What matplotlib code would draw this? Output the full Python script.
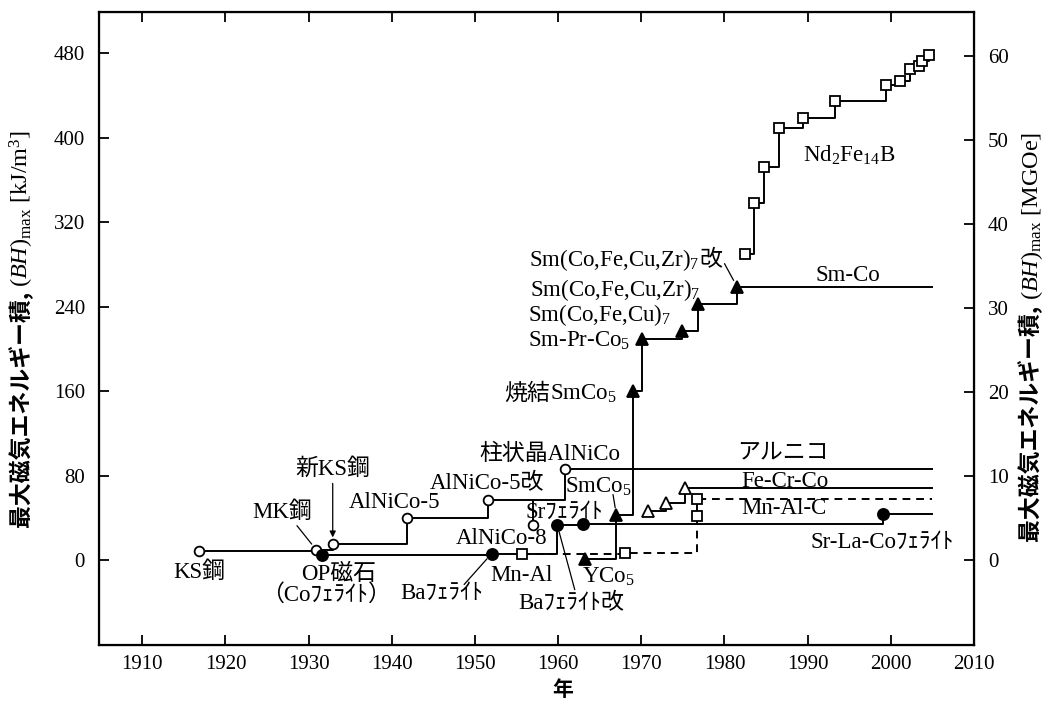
import matplotlib
matplotlib.use('Agg')
import matplotlib.pyplot as plt

plt.rcParams['font.family'] = ['Liberation Serif', 'Noto Sans CJK JP']
plt.rcParams['mathtext.fontset'] = 'custom'
plt.rcParams['mathtext.rm'] = 'Liberation Serif'
plt.rcParams['mathtext.it'] = 'Liberation Serif:italic'
plt.rcParams['mathtext.default'] = 'rm'

# year / (BH)max [kJ/m3]
alnico_year = [1916.8, 1930.9, 1932.9, 1941.8, 1951.6, 1960.8]
alnico_val = [8.2, 9.9, 14.8, 39.9, 56.5, 86.4]
alnico8_year = 1957.0
alnico8_val = 33.0

ferrite_year = [1931.6, 1952.0, 1959.9, 1963.0, 1999.0]
ferrite_val = [5.0, 6.0, 33.0, 34.0, 44.0]

smco_year = [1963.2, 1967.0, 1969.0, 1970.1, 1974.9, 1976.8, 1981.5]
smco_val = [1.0, 43.0, 160.0, 209.0, 217.0, 242.5, 259.0]

mnal_year = [1955.7, 1968.1, 1976.7, 1976.7]
mnal_val = [5.6, 7.0, 42.0, 58.0]

fecrco_year = [1970.8, 1973.0, 1975.2]
fecrco_val = [46.0, 54.0, 68.0]

ndfeb_year = [1982.5, 1983.6, 1984.8, 1986.5, 1989.4, 1993.3,
              1999.4, 2001.1, 2002.3, 2003.4, 2003.7, 2004.6]
ndfeb_val = [290, 338, 372, 409, 419, 435, 450, 454, 465, 468, 473, 478]

LINE_END = 2005.0
KJ_PER_MGOE = 7.958

year_ticks = list(range(1910, 2011, 10))
kj_ticks = list(range(0, 481, 80))
mgoe_ticks = list(range(0, 61, 10))

# labels: (text, year, value)
plain_labels = [
    ('KS鋼', 1916.8, -11.7),
    ('MK鋼', 1926.8, 45.7),
    ('新KS鋼', 1932.9, 86.7),
    ('OP磁石', 1933.6, -13.6),
    ('（Coﾌｪﾗｲﾄ）', 1932.1, -32.6),
    ('AlNiCo-5', 1940.3, 54.0),
    ('Baﾌｪﾗｲﾄ', 1946.0, -31.9),
    ('AlNiCo-5改', 1951.4, 72.6),
    ('柱状晶AlNiCo', 1959.0, 100.4),
    ('AlNiCo-8', 1953.2, 20.6),
    ('Mn-Al', 1955.6, -14.3),
    ('Srﾌｪﾗｲﾄ', 1960.8, 45.6),
    ('Baﾌｪﾗｲﾄ改', 1961.6, -41.4),
    ('アルニコ', 1987.0, 101.0),
    ('Fe-Cr-Co', 1987.3, 74.5),
    ('Mn-Al-C', 1987.2, 49.0),
    ('Sr-La-Coﾌｪﾗｲﾄ', 1999.0, 16.5),
    ('Sm-Co', 1994.8, 269.0),
    (r'SmCo$_5$', 1964.8, 69.5),
    (r'YCo$_5$', 1966.1, -15.6),
    (r'Nd$_2$Fe$_{14}$B', 1995.0, 383.7),
]
# two-part labels joined at an anchor: (left part, right part, year, value)
joined_labels = [
    ('焼結', r'SmCo$_5$', 1959.0, 151.6),
    (r'Sm-Pr-Co$_5$', '', 1968.7, 202.0),
    (r'Sm(Co,Fe,Cu)$_7$', '', 1973.6, 226.0),
    (r'Sm(Co,Fe,Cu,Zr)$_7$', '', 1977.1, 250.0),
    (r'Sm(Co,Fe,Cu,Zr)$_7$', '改', 1977.0, 278.5),
]

FS = 16.5


def draw_steps(ax, xs, ys, marker, filled, ms, dashed=False):
    ls = (0, (4, 3)) if dashed else '-'
    ax.step(list(xs) + [LINE_END], list(ys) + [ys[-1]], where='post',
            color='k', lw=1.4, ls=ls, zorder=2)
    ax.plot(xs, ys, ls='none', marker=marker, ms=ms,
            mfc='k' if filled else 'white', mec='k', mew=1.3, zorder=3)


def leader(ax, target, start, arrow=False):
    ax.annotate('', xy=target, xytext=start,
                arrowprops=dict(arrowstyle='-|>' if arrow else '-', color='k',
                                lw=0.9, shrinkA=0, shrinkB=5, mutation_scale=9))


fig = plt.figure(figsize=(10.45, 7.09), dpi=100)
ax = fig.add_axes([99 / 1045, 64 / 709, 875 / 1045, 633 / 709])

draw_steps(ax, alnico_year, alnico_val, 'o', False, 7)
ax.plot([alnico8_year, alnico8_year], [alnico_val[4], alnico8_val], color='k', lw=1.4, zorder=2)
ax.plot([alnico8_year], [alnico8_val], ls='none', marker='o', ms=7, mfc='white', mec='k', mew=1.3, zorder=3)
draw_steps(ax, ferrite_year, ferrite_val, 'o', True, 8)
draw_steps(ax, mnal_year, mnal_val, 's', False, 7, dashed=True)
draw_steps(ax, fecrco_year, fecrco_val, '^', False, 8)
draw_steps(ax, smco_year, smco_val, '^', True, 9)
ax.step(ndfeb_year, ndfeb_val, where='post', color='k', lw=1.4, zorder=2)
ax.plot(ndfeb_year, ndfeb_val, ls='none', marker='s', ms=7, mfc='white', mec='k', mew=1.3, zorder=3)

for s, x, y in plain_labels:
    ax.text(x, y, s, ha='center', va='center', fontsize=FS)
for left, right, x, y in joined_labels:
    ax.text(x, y, left, ha='right', va='baseline', fontsize=FS)
    if right:
        ax.text(x, y, right, ha='left', va='baseline', fontsize=FS)

leader(ax, (alnico_year[1], alnico_val[1]), (1928.6, 32.5))
leader(ax, (alnico_year[2], alnico_val[2]), (1932.9, 72.5), arrow=True)
leader(ax, (ferrite_year[1], ferrite_val[1]), (1948.7, -23.2))
leader(ax, (ferrite_year[2], ferrite_val[2]), (1962.0, -28.1))
leader(ax, (smco_year[1], smco_val[1]), (1966.6, 62.0))
leader(ax, (smco_year[6], smco_val[6]), (1980.0, 280.7))

ax.set_xlim(1904.8, 2010.0)
ax.set_ylim(-80.5, 519)
ax.set_xticks(year_ticks)
ax.set_yticks(kj_ticks)
ax.tick_params(direction='in', length=7, width=1.3, labelsize=15, top=True)
ax.tick_params(axis='y', pad=10)
ax.tick_params(axis='x', pad=7)
for sp in ax.spines.values():
    sp.set_linewidth(1.6)

ax2 = ax.twinx()
ax2.set_ylim(-80.5 / KJ_PER_MGOE, 519 / KJ_PER_MGOE)
ax2.set_yticks(mgoe_ticks)
ax2.tick_params(direction='in', length=7, width=1.3, labelsize=15, pad=10)

fig.text(563 / 1045, 1 - 690 / 709, '年', ha='center', va='center', fontsize=15,
         family='Noto Sans CJK JP', weight='bold')

# axis titles built from a CJK part and a math part sharing one baseline
for xp, yp, unit in [(29, 287, '[kJ/m$^{3}$]'), (1038, 300, '[MGOe]')]:
    fx, fy = xp / 1045, 1 - yp / 709
    fig.text(fx, fy, '最大磁気エネルギー積, ', rotation=90, rotation_mode='anchor',
             ha='right', va='baseline', fontsize=16.5, family='Noto Sans CJK JP', weight='bold')
    fig.text(fx, fy, r'$(\mathit{BH})_{\mathrm{max}}$ ' + unit, rotation=90,
             rotation_mode='anchor', ha='left', va='baseline', fontsize=17.5)

fig.savefig('out.png', dpi=100)
